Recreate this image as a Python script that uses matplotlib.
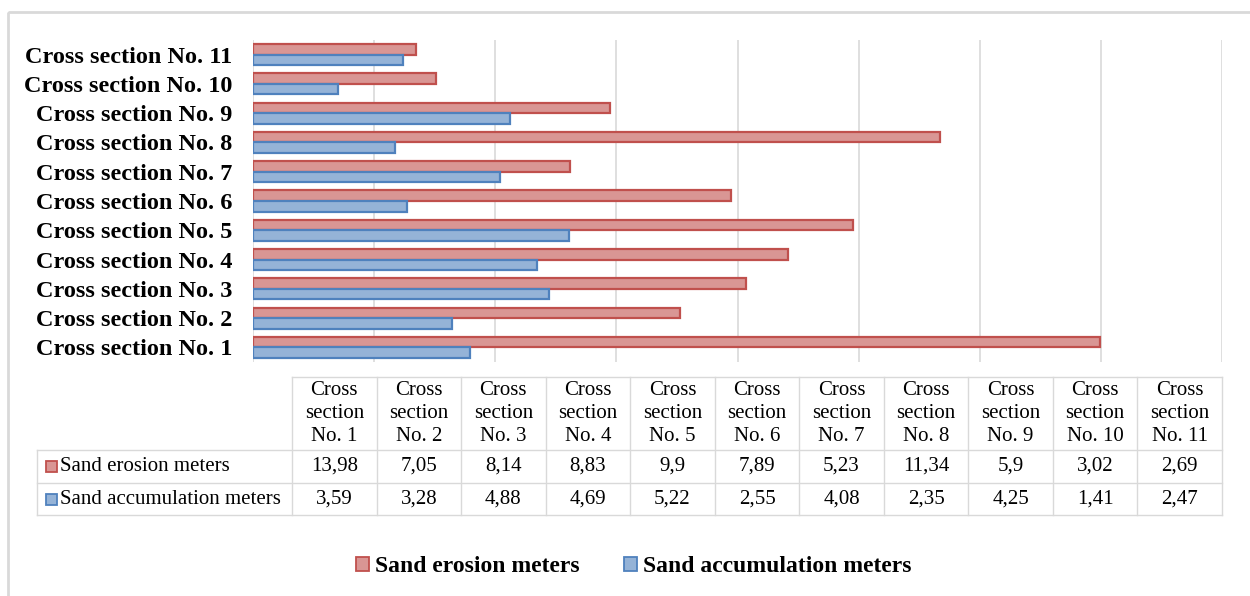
import matplotlib
matplotlib.use("Agg")
import matplotlib.pyplot as plt
from matplotlib.patches import Patch, Rectangle

categories = [f"Cross section No. {i}" for i in range(1, 12)]
erosion = [13.98, 7.05, 8.14, 8.83, 9.9, 7.89, 5.23, 11.34, 5.9, 3.02, 2.69]
accumulation = [3.59, 3.28, 4.88, 4.69, 5.22, 2.55, 4.08, 2.35, 4.25, 1.41, 2.47]
series_names = ["Sand erosion meters", "Sand accumulation meters"]

RED_EDGE, RED_FACE = "#C0504D", "#D99694"
BLUE_EDGE, BLUE_FACE = "#4F81BD", "#95B3D7"
GRID = "#D9D9D9"
SERIF = "Liberation Serif"

W, H = 1250, 596
fig = plt.figure(figsize=(W / 100, H / 100), dpi=100)


def fx(px):
    return px / W


def fy(py):
    return 1 - py / H


# main bar chart ---------------------------------------------------------
ax_left, ax_right, ax_top, ax_bot = 253, 1222, 40, 362
ax = fig.add_axes([fx(ax_left), fy(ax_bot), fx(ax_right - ax_left), (ax_bot - ax_top) / H])
ypos = list(range(len(categories)))
bh = 0.36
ax.barh([y + bh / 2 for y in ypos], erosion, height=bh, color=RED_FACE,
        edgecolor=RED_EDGE, linewidth=1.6, zorder=3)
ax.barh([y - bh / 2 for y in ypos], accumulation, height=bh, color=BLUE_FACE,
        edgecolor=BLUE_EDGE, linewidth=1.6, zorder=3)
ax.set_xlim(0, 16)
ax.set_ylim(-0.5, len(categories) - 0.5)
ax.set_xticks(range(0, 17, 2))
ax.set_xticklabels([])
ax.tick_params(axis="x", length=0)
ax.tick_params(axis="y", length=0, pad=15)
ax.set_yticks(ypos)
ax.set_yticklabels(categories, fontfamily=SERIF, fontweight="bold", fontsize=17.5)
ax.grid(axis="x", color=GRID, linewidth=1.2, zorder=0)
for s in ax.spines.values():
    s.set_visible(False)

# overlay in pixel coordinates for the data table and frame ---------------
ov = fig.add_axes([0, 0, 1, 1], zorder=-1)
ov.set_xlim(0, W)
ov.set_ylim(H, 0)
ov.axis("off")
ov.add_patch(Rectangle((8, 12), W + 20, H + 20, fill=False, edgecolor=GRID, linewidth=2))

col0, col_start, col_end = 37, 292, 1222
row_top, row_head, row_mid, row_bot = 377, 450, 483, 515
ncol = len(categories)
cw = (col_end - col_start) / ncol
lw = 1.0
TFS = 15
ov.plot([col_start, col_end], [row_top, row_top], color=GRID, lw=lw)
for yl in (row_head, row_mid, row_bot):
    ov.plot([col0, col_end], [yl, yl], color=GRID, lw=lw)
ov.plot([col0, col0], [row_head, row_bot], color=GRID, lw=lw)
for i in range(ncol + 1):
    xl = col_start + i * cw
    ov.plot([xl, xl], [row_top, row_bot], color=GRID, lw=lw)

for i, cat in enumerate(categories):
    xc = col_start + (i + 0.5) * cw
    num = cat.split("No. ")[1]
    ov.text(xc, (row_top + row_head) / 2, f"Cross\nsection\nNo. {num}", ha="center",
            va="center", fontfamily=SERIF, fontsize=TFS, linespacing=1.32)
    for vals, (y0, y1) in ((erosion, (row_head, row_mid)), (accumulation, (row_mid, row_bot))):
        ov.text(xc, (y0 + y1) / 2, f"{vals[i]:g}".replace(".", ","), ha="center",
                va="center", fontfamily=SERIF, fontsize=TFS)

for name, (y0, y1), fc, ec in ((series_names[0], (row_head, row_mid), RED_FACE, RED_EDGE),
                               (series_names[1], (row_mid, row_bot), BLUE_FACE, BLUE_EDGE)):
    yc = (y0 + y1) / 2
    ov.add_patch(Rectangle((46, yc - 5.5), 11, 11, facecolor=fc, edgecolor=ec, linewidth=1.3))
    ov.text(60, yc, name, ha="left", va="center", fontfamily=SERIF, fontsize=TFS)

# legend -------------------------------------------------------------------
handles = [Patch(facecolor=RED_FACE, edgecolor=RED_EDGE, linewidth=1.3),
           Patch(facecolor=BLUE_FACE, edgecolor=BLUE_EDGE, linewidth=1.3)]
fig.legend(handles, series_names, loc="center", bbox_to_anchor=(fx(634), fy(567)), ncol=2,
           frameon=False, prop={"family": SERIF, "weight": "bold", "size": 17},
           handlelength=0.55, handleheight=0.55, handletextpad=0.25, columnspacing=1.9)

fig.savefig("out.png", dpi=100)
